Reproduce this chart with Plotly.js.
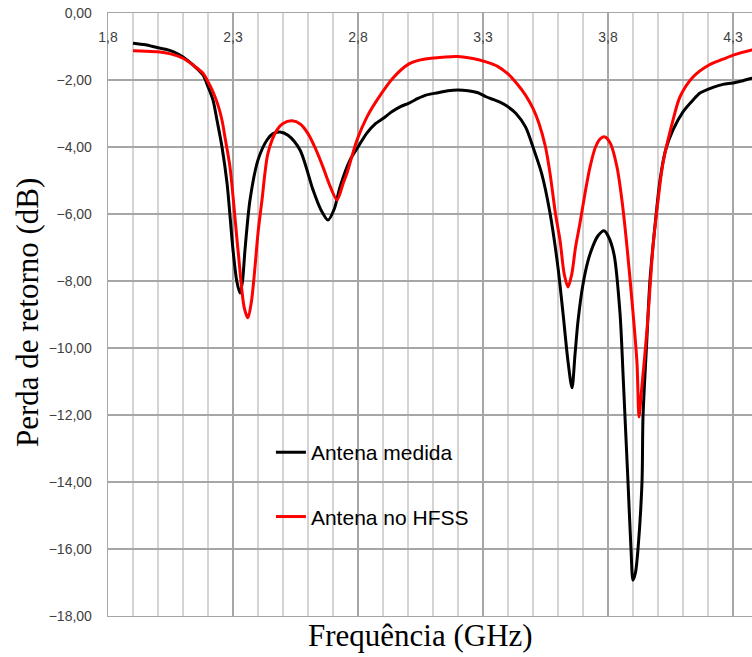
<!DOCTYPE html>
<html>
<head>
<meta charset="utf-8">
<script src="https://cdn.plot.ly/plotly-3.0.1.min.js"></script>
<style>html,body{margin:0;padding:0;background:#fff;}#chart{width:752px;height:657px;}</style>
</head>
<body>
<div id="chart"></div>
<script>
// Antena medida (black)
const freqMedida = [1.90,1.95,2.00,2.03,2.06,2.10,2.14,2.18,2.20,2.22,2.236,2.256,2.276,2.30,2.315,2.328,2.338,2.348,2.368,2.40,2.436,2.46,2.488,2.52,2.568,2.62,2.65,2.68,2.705,2.728,2.768,2.80,2.836,2.87,2.90,2.935,2.968,3.004,3.04,3.072,3.12,3.16,3.20,3.24,3.28,3.312,3.34,3.368,3.40,3.432,3.47,3.50,3.535,3.568,3.60,3.62,3.64,3.656,3.668,3.68,3.70,3.72,3.74,3.76,3.784,3.80,3.824,3.848,3.86,3.868,3.88,3.892,3.90,3.91,3.92,3.936,3.94,3.955,3.968,3.99,4.008,4.03,4.06,4.10,4.14,4.168,4.22,4.26,4.30,4.34,4.376,4.42];
const perdaMedida = [-0.90,-0.95,-1.04,-1.08,-1.15,-1.31,-1.55,-1.85,-2.2,-2.6,-3.2,-4.0,-5.07,-7.07,-8.0,-8.36,-8.0,-7.07,-5.58,-4.39,-3.79,-3.6,-3.55,-3.65,-4.09,-5.28,-5.85,-6.18,-5.85,-5.19,-4.39,-4.0,-3.58,-3.3,-3.15,-2.95,-2.8,-2.69,-2.55,-2.45,-2.38,-2.32,-2.30,-2.32,-2.38,-2.5,-2.58,-2.66,-2.8,-3.0,-3.4,-4.0,-4.8,-5.97,-7.6,-8.96,-10.4,-11.19,-10.2,-9.2,-8.1,-7.4,-6.95,-6.65,-6.5,-6.65,-7.2,-8.96,-10.75,-12.06,-14.0,-16.0,-16.93,-16.7,-16.0,-14.0,-12.06,-9.8,-7.97,-6.2,-4.99,-4.1,-3.49,-2.95,-2.6,-2.39,-2.22,-2.13,-2.09,-2.02,-1.95,-1.92];

// Antena no HFSS (red)
const freqHFSS = [1.90,1.95,2.00,2.05,2.10,2.14,2.18,2.20,2.22,2.24,2.256,2.27,2.288,2.32,2.345,2.36,2.374,2.388,2.40,2.416,2.44,2.476,2.50,2.536,2.57,2.60,2.63,2.66,2.69,2.716,2.74,2.756,2.796,2.836,2.876,2.94,3.004,3.05,3.104,3.15,3.20,3.26,3.312,3.36,3.40,3.44,3.47,3.50,3.524,3.55,3.568,3.59,3.608,3.625,3.64,3.655,3.67,3.688,3.71,3.728,3.75,3.77,3.788,3.81,3.836,3.856,3.876,3.896,3.916,3.924,3.935,3.956,3.98,4.00,4.02,4.06,4.088,4.14,4.204,4.26,4.304,4.376,4.42];
const perdaHFSS = [-1.13,-1.14,-1.16,-1.22,-1.35,-1.55,-1.8,-2.05,-2.35,-2.75,-3.2,-3.8,-4.6,-7.07,-8.8,-9.1,-8.6,-7.58,-6.57,-5.58,-4.18,-3.49,-3.3,-3.22,-3.32,-3.6,-4.05,-4.6,-5.2,-5.58,-5.1,-4.78,-3.79,-3.1,-2.6,-1.94,-1.52,-1.4,-1.34,-1.31,-1.30,-1.36,-1.46,-1.6,-1.82,-2.15,-2.45,-2.85,-3.3,-4.0,-4.78,-6.0,-6.78,-7.8,-8.18,-7.8,-7.0,-6.27,-5.3,-4.6,-4.0,-3.75,-3.7,-3.9,-4.6,-5.6,-6.98,-8.6,-10.45,-12.06,-11.2,-9.46,-6.98,-5.6,-4.48,-3.2,-2.5,-1.91,-1.55,-1.38,-1.25,-1.1,-1.05];

// Axis ticks and labels
const xTickVals = [1.8,2.3,2.8,3.3,3.8,4.3];
const xTickText = ["1,8","2,3","2,8","3,3","3,8","4,3"];
const yTickVals = [0,-2,-4,-6,-8,-10,-12,-14,-16,-18];
const seriesNames = ["Antena medida","Antena no HFSS"];
const xTitle = "Frequência (GHz)";
const yTitle = "Perda de retorno (dB)";

const traces = [
  {x: freqMedida, y: perdaMedida, name: seriesNames[0], type: 'scatter', mode: 'lines',
   line: {color: '#000000', width: 3, shape: 'spline', smoothing: 0.8}, legendgroup: 'a'},
  {x: freqHFSS, y: perdaHFSS, name: seriesNames[1], type: 'scatter', mode: 'lines',
   line: {color: '#ff0000', width: 3, shape: 'spline', smoothing: 0.8}, legendgroup: 'b'}
];

const layout = {
  width: 752, height: 657,
  margin: {l: 108, r: 0, t: 13, b: 41, pad: 0},
  paper_bgcolor: '#ffffff', plot_bgcolor: '#ffffff',
  separators: ',.',
  showlegend: true,
  legend: {x: 0.253, y: 0.305, xanchor: 'left', yanchor: 'top', traceorder: 'grouped', tracegroupgap: 34,
           bgcolor: 'rgba(0,0,0,0)', font: {family: 'Liberation Sans, Arial, sans-serif', size: 21, color: '#000'}},
  xaxis: {
    side: 'top', range: [1.8, 4.376], tickmode: 'array', tickvals: xTickVals, ticktext: xTickText,
    ticklabelposition: 'inside', ticklabeloverflow: 'allow', ticks: '', ticklabelstandoff: 19,
    tickfont: {family: 'Liberation Sans, Arial, sans-serif', size: 14, color: '#404040'},
    showgrid: true, gridcolor: '#a6a6a6', gridwidth: 1.3,
    minor: {tick0: 1.8, dtick: 0.1, showgrid: true, gridcolor: '#d4d4d4', gridwidth: 1.2},
    showline: true, linecolor: '#a6a6a6', linewidth: 1.3, mirror: true, zeroline: false
  },
  yaxis: {
    range: [-18, 0], tickmode: 'array', tickvals: yTickVals, tickformat: '.2f', ticks: '', ticklabelstandoff: 12,
    tickfont: {family: 'Liberation Sans, Arial, sans-serif', size: 14, color: '#404040'},
    showgrid: true, gridcolor: '#a6a6a6', gridwidth: 1.3,
    showline: true, linecolor: '#a6a6a6', linewidth: 1.3, zeroline: false
  },
  annotations: [
    {text: xTitle, xref: 'paper', yref: 'paper', x: 0.4845, y: -0.033, xanchor: 'center', yanchor: 'middle',
     showarrow: false, font: {family: 'Liberation Serif, Times New Roman, serif', size: 31, color: '#000'}},
    {text: yTitle, xref: 'paper', yref: 'paper', x: -0.1258, y: 0.504, xanchor: 'center', yanchor: 'middle',
     textangle: -90, showarrow: false, font: {family: 'Liberation Serif, Times New Roman, serif', size: 31, color: '#000'}}
  ]
};

Plotly.newPlot('chart', traces, layout, {displayModeBar: false, staticPlot: true});
</script>
</body>
</html>
